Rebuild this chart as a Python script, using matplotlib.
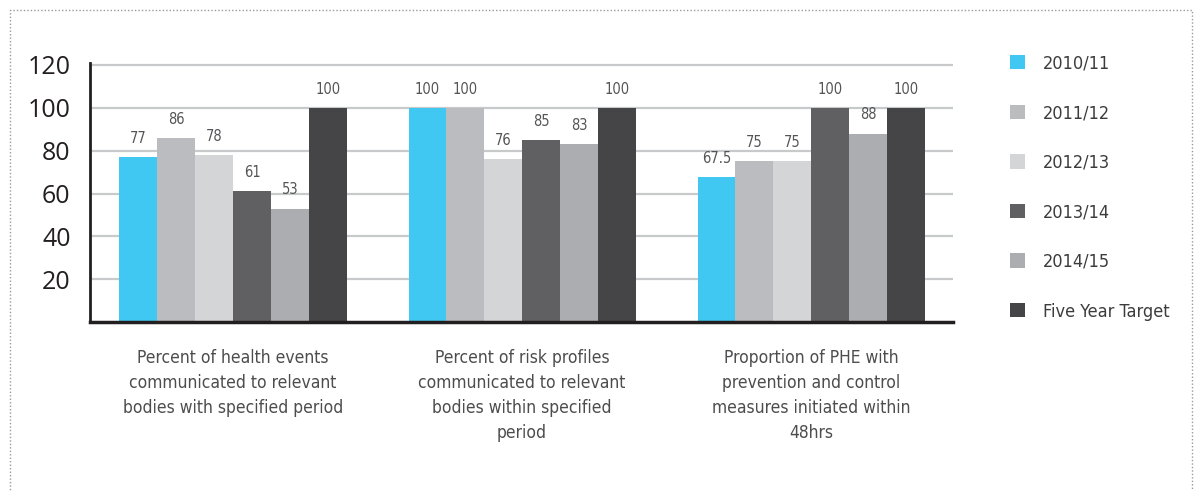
import numpy as np
import matplotlib.pyplot as plt
from matplotlib.patches import Rectangle, Patch

categories = ["Percent of health events\ncommunicated to relevant\nbodies with specified period",
              "Percent of risk profiles\ncommunicated to relevant\nbodies within specified\nperiod",
              "Proportion of PHE with\nprevention and control\nmeasures initiated within\n48hrs"]
series_names = ["2010/11", "2011/12", "2012/13", "2013/14", "2014/15", "Five Year Target"]
values = [
    [77, 100, 67.5],
    [86, 100, 75],
    [78, 76, 75],
    [61, 85, 100],
    [53, 83, 88],
    [100, 100, 100],
]
labels = [
    ["77", "100", "67.5"],
    ["86", "100", "75"],
    ["78", "76", "75"],
    ["61", "85", "100"],
    ["53", "83", "88"],
    ["100", "100", "100"],
]
colors = ["#40c8f2", "#bbbcbf", "#d4d5d7", "#606062", "#acadb0", "#454547"]

narrow = ["DejaVu Sans"]
stretch = "condensed"

fig = plt.figure(figsize=(12, 4.91), dpi=100)
ax = fig.add_axes([0.075, 0.344, 0.719, 0.528])

x = np.arange(len(categories))
w = 0.131
for i in range(len(series_names)):
    pos = x + (i - 2.5) * w
    bars = ax.bar(pos, values[i], width=w, color=colors[i], zorder=3, label=series_names[i])
    for b, lab in zip(bars, labels[i]):
        ax.annotate(lab, (b.get_x() + b.get_width() / 2, b.get_height()),
                    xytext=(0, 8), textcoords="offset points", ha="center", va="bottom",
                    fontsize=10.5, color="#555557", family=narrow, fontstretch=stretch)

ax.set_xlim(-0.495, 2.49)
ax.set_ylim(0, 121)
ax.set_yticks([20, 40, 60, 80, 100, 120])
ax.yaxis.grid(True, color="#c8c9cb", linewidth=1.6, zorder=0)
ax.tick_params(axis="y", length=0, pad=14, labelsize=18, labelcolor="#231f20")
ax.tick_params(axis="x", length=0, labelbottom=False)
for t in ax.get_yticklabels():
    t.set_family(["Open Sans", "DejaVu Sans"])
for s in ["top", "right"]:
    ax.spines[s].set_visible(False)
ax.spines["left"].set_color("#231f20")
ax.spines["left"].set_linewidth(2)
ax.spines["bottom"].set_color("#231f20")
ax.spines["bottom"].set_linewidth(2.5)
ax.spines["bottom"].set_zorder(4)

for xi, cat in zip(x, categories):
    ax.text(xi, -12.5, cat, ha="center", va="top", fontsize=12.5, color="#4d4d4f",
            family=narrow, fontstretch=stretch, linespacing=1.5)

handles = [Patch(facecolor=c, edgecolor="none") for c in colors]
fig.legend(handles, series_names, loc="upper left", bbox_to_anchor=(0.828, 0.922),
           frameon=False, prop={"family": narrow, "size": 13, "stretch": stretch},
           labelcolor="#3c3c3e",
           handlelength=0.85, handleheight=0.85, handletextpad=1.0, labelspacing=1.75)

fig.patches.append(Rectangle((0.008, -0.05), 0.985, 1.03, transform=fig.transFigure,
                             fill=False, edgecolor="#9a9a9a", linestyle=(0, (1, 1.5)),
                             linewidth=1))

fig.savefig("out.png", dpi=100)
